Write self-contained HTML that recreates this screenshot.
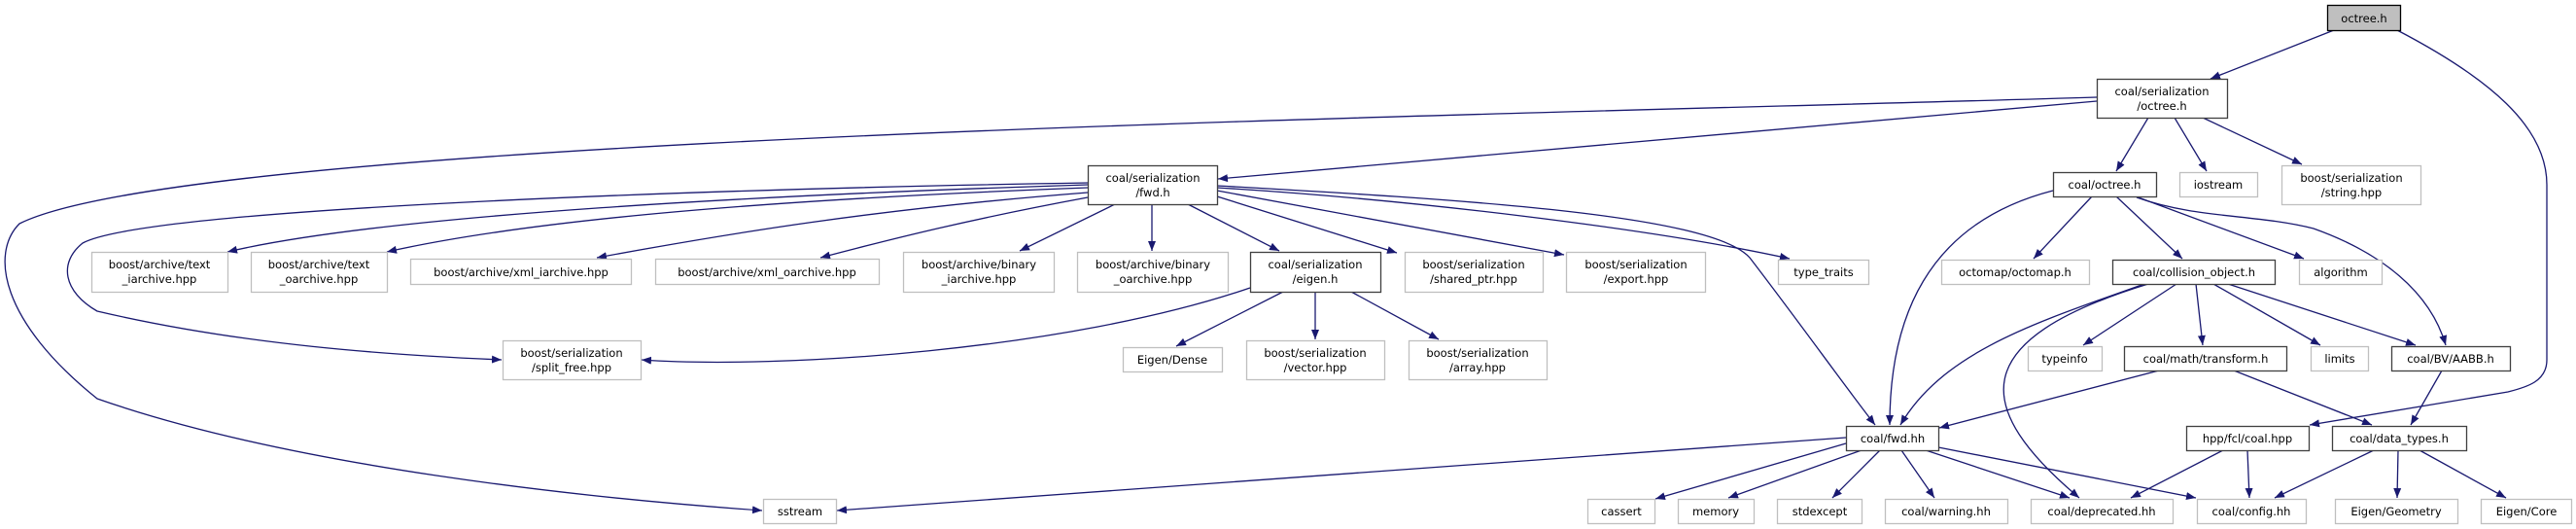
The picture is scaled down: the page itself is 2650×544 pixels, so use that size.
<!DOCTYPE html>
<html><head><meta charset="utf-8"><style>
html,body{margin:0;padding:0;background:#fff;}
svg{display:block;}
text{font-family:"DejaVu Sans","Liberation Sans",sans-serif;font-size:11.5px;fill:#000;}
.i{fill:#fff;stroke:#404040;stroke-width:1.3;}
.x{fill:#fff;stroke:#bfbfbf;stroke-width:1.3;}
.e{fill:none;stroke:#191970;stroke-width:1.3;}
</style></head><body>
<svg width="2650" height="544" viewBox="0 0 2650 544" xmlns="http://www.w3.org/2000/svg">
<defs><marker id="a" viewBox="0 0 10 10" refX="10" refY="5" markerWidth="10" markerHeight="10" markerUnits="userSpaceOnUse" orient="auto"><path d="M0,1 L10,5 L0,9 z" fill="#191970"/></marker></defs>
<g marker-end="url(#a)">
<path class="e" d="M2401,31 L2274,81"/>
<path class="e" d="M2466,31 C2560,80 2620,130 2620,190 L2620,370 C2620,392 2600,398 2580,403 L2376,437"/>
<path class="e" d="M2157,104 L1253,184"/>
<path class="e" d="M2157,100 C1500,120 200,140 20,230 C-10,260 0,330 100,410 C300,480 600,512 784,525"/>
<path class="e" d="M2210,121 L2177,176"/>
<path class="e" d="M2237,121 L2270,176"/>
<path class="e" d="M2266,121 L2368,169"/>
<path class="e" d="M1119,190 C800,200 400,220 234,259"/>
<path class="e" d="M1119,193 C800,205 550,225 398,259"/>
<path class="e" d="M1119,198 C900,215 750,240 614,265"/>
<path class="e" d="M1119,203 C1000,225 920,245 844,265"/>
<path class="e" d="M1119,188 C700,195 150,215 85,250 C60,270 65,300 100,320 C250,355 400,365 516,370"/>
<path class="e" d="M1147,210 L1049,258"/>
<path class="e" d="M1185,210 L1185,258"/>
<path class="e" d="M1222,210 L1316,258"/>
<path class="e" d="M1252,202 L1437,260"/>
<path class="e" d="M1252,196 L1609,262"/>
<path class="e" d="M1252,193 C1450,205 1700,235 1841,266"/>
<path class="e" d="M1252,191 C1500,205 1760,220 1800,265 C1850,330 1900,400 1929,437"/>
<path class="e" d="M1286,296 C1100,360 800,380 660,370"/>
<path class="e" d="M1320,300 L1210,356"/>
<path class="e" d="M1353,300 L1353,349"/>
<path class="e" d="M1390,300 L1480,349"/>
<path class="e" d="M2112,196 C1980,230 1944,330 1944,437"/>
<path class="e" d="M2152,202 L2092,266"/>
<path class="e" d="M2177,202 L2245,266"/>
<path class="e" d="M2197,202 L2370,266"/>
<path class="e" d="M2198,203 C2260,225 2320,220 2380,235 C2450,260 2500,300 2516,355"/>
<path class="e" d="M2206,292 C2100,330 2000,360 1955,437"/>
<path class="e" d="M2210,292 C2020,350 2030,420 2139,512"/>
<path class="e" d="M2239,292 L2143,355"/>
<path class="e" d="M2259,292 L2266,355"/>
<path class="e" d="M2277,292 L2387,355"/>
<path class="e" d="M2292,292 L2485,355"/>
<path class="e" d="M2221,381 L1995,440"/>
<path class="e" d="M2298,381 L2440,437"/>
<path class="e" d="M2512,381 L2480,437"/>
<path class="e" d="M1899,450 L861,525"/>
<path class="e" d="M1899,456 L1703,513"/>
<path class="e" d="M1915,463 L1778,512"/>
<path class="e" d="M1934,463 L1885,512"/>
<path class="e" d="M1956,463 L1990,512"/>
<path class="e" d="M1981,463 L2129,512"/>
<path class="e" d="M1994,460 L2259,512"/>
<path class="e" d="M2287,463 L2192,512"/>
<path class="e" d="M2312,463 L2314,512"/>
<path class="e" d="M2442,463 L2340,512"/>
<path class="e" d="M2467,463 L2466,512"/>
<path class="e" d="M2489,463 L2578,512"/>
</g>
<rect x="2394.5" y="5.5" width="75" height="26" fill="#bfbfbf" stroke="#000" stroke-width="1.3"/><text x="2432" y="23" text-anchor="middle">octree.h</text>
<rect class="i" x="2157.5" y="81.5" width="134" height="40"/><text x="2224" y="98" text-anchor="middle">coal/serialization</text><text x="2224" y="113" text-anchor="middle">/octree.h</text>
<rect class="i" x="1119.5" y="170.5" width="133" height="40"/><text x="1186" y="187" text-anchor="middle">coal/serialization</text><text x="1186" y="202" text-anchor="middle">/fwd.h</text>
<rect class="i" x="2112.5" y="177.5" width="106" height="25"/><text x="2165" y="194" text-anchor="middle">coal/octree.h</text>
<rect class="x" x="2242.5" y="177.5" width="80" height="25"/><text x="2282" y="194" text-anchor="middle">iostream</text>
<rect class="x" x="2347.5" y="170.5" width="143" height="40"/><text x="2419" y="187" text-anchor="middle">boost/serialization</text><text x="2419" y="202" text-anchor="middle">/string.hpp</text>
<rect class="x" x="94.5" y="259.5" width="140" height="41"/><text x="164" y="276" text-anchor="middle">boost/archive/text</text><text x="164" y="291" text-anchor="middle">_iarchive.hpp</text>
<rect class="x" x="258.5" y="259.5" width="140" height="41"/><text x="328" y="276" text-anchor="middle">boost/archive/text</text><text x="328" y="291" text-anchor="middle">_oarchive.hpp</text>
<rect class="x" x="422.5" y="266.5" width="227" height="26"/><text x="536" y="284" text-anchor="middle">boost/archive/xml_iarchive.hpp</text>
<rect class="x" x="674.5" y="266.5" width="230" height="26"/><text x="789" y="284" text-anchor="middle">boost/archive/xml_oarchive.hpp</text>
<rect class="x" x="929.5" y="259.5" width="155" height="41"/><text x="1007" y="276" text-anchor="middle">boost/archive/binary</text><text x="1007" y="291" text-anchor="middle">_iarchive.hpp</text>
<rect class="x" x="1108.5" y="259.5" width="155" height="41"/><text x="1186" y="276" text-anchor="middle">boost/archive/binary</text><text x="1186" y="291" text-anchor="middle">_oarchive.hpp</text>
<rect class="i" x="1286.5" y="259.5" width="134" height="41"/><text x="1353" y="276" text-anchor="middle">coal/serialization</text><text x="1353" y="291" text-anchor="middle">/eigen.h</text>
<rect class="x" x="1445.5" y="259.5" width="142" height="41"/><text x="1516" y="276" text-anchor="middle">boost/serialization</text><text x="1516" y="291" text-anchor="middle">/shared_ptr.hpp</text>
<rect class="x" x="1611.5" y="259.5" width="143" height="41"/><text x="1683" y="276" text-anchor="middle">boost/serialization</text><text x="1683" y="291" text-anchor="middle">/export.hpp</text>
<rect class="x" x="1829.5" y="267.5" width="93" height="25"/><text x="1876" y="284" text-anchor="middle">type_traits</text>
<rect class="x" x="1997.5" y="267.5" width="152" height="25"/><text x="2073" y="284" text-anchor="middle">octomap/octomap.h</text>
<rect class="i" x="2173.5" y="267.5" width="167" height="25"/><text x="2257" y="284" text-anchor="middle">coal/collision_object.h</text>
<rect class="x" x="2365.5" y="267.5" width="85" height="25"/><text x="2408" y="284" text-anchor="middle">algorithm</text>
<rect class="x" x="517.5" y="350.5" width="142" height="40"/><text x="588" y="367" text-anchor="middle">boost/serialization</text><text x="588" y="382" text-anchor="middle">/split_free.hpp</text>
<rect class="x" x="1155.5" y="357.5" width="102" height="25"/><text x="1206" y="374" text-anchor="middle">Eigen/Dense</text>
<rect class="x" x="1282.5" y="350.5" width="142" height="40"/><text x="1353" y="367" text-anchor="middle">boost/serialization</text><text x="1353" y="382" text-anchor="middle">/vector.hpp</text>
<rect class="x" x="1449.5" y="350.5" width="142" height="40"/><text x="1520" y="367" text-anchor="middle">boost/serialization</text><text x="1520" y="382" text-anchor="middle">/array.hpp</text>
<rect class="x" x="2086.5" y="356.5" width="76" height="25"/><text x="2124" y="373" text-anchor="middle">typeinfo</text>
<rect class="i" x="2185.5" y="356.5" width="167" height="25"/><text x="2269" y="373" text-anchor="middle">coal/math/transform.h</text>
<rect class="x" x="2377.5" y="356.5" width="59" height="25"/><text x="2407" y="373" text-anchor="middle">limits</text>
<rect class="i" x="2460.5" y="356.5" width="122" height="25"/><text x="2521" y="373" text-anchor="middle">coal/BV/AABB.h</text>
<rect class="i" x="1899.5" y="438.5" width="95" height="25"/><text x="1947" y="455" text-anchor="middle">coal/fwd.hh</text>
<rect class="i" x="2249.5" y="438.5" width="126" height="25"/><text x="2312" y="455" text-anchor="middle">hpp/fcl/coal.hpp</text>
<rect class="i" x="2399.5" y="438.5" width="138" height="25"/><text x="2468" y="455" text-anchor="middle">coal/data_types.h</text>
<rect class="x" x="785.5" y="513.5" width="75" height="25"/><text x="823" y="530" text-anchor="middle">sstream</text>
<rect class="x" x="1633.5" y="513.5" width="69" height="25"/><text x="1668" y="530" text-anchor="middle">cassert</text>
<rect class="x" x="1726.5" y="513.5" width="78" height="25"/><text x="1765" y="530" text-anchor="middle">memory</text>
<rect class="x" x="1828.5" y="513.5" width="87" height="25"/><text x="1872" y="530" text-anchor="middle">stdexcept</text>
<rect class="x" x="1939.5" y="513.5" width="126" height="25"/><text x="2002" y="530" text-anchor="middle">coal/warning.hh</text>
<rect class="x" x="2089.5" y="513.5" width="146" height="25"/><text x="2162" y="530" text-anchor="middle">coal/deprecated.hh</text>
<rect class="x" x="2260.5" y="513.5" width="112" height="25"/><text x="2316" y="530" text-anchor="middle">coal/config.hh</text>
<rect class="x" x="2402.5" y="513.5" width="126" height="25"/><text x="2465" y="530" text-anchor="middle">Eigen/Geometry</text>
<rect class="x" x="2552.5" y="513.5" width="93" height="25"/><text x="2599" y="530" text-anchor="middle">Eigen/Core</text>
</svg>
</body></html>
